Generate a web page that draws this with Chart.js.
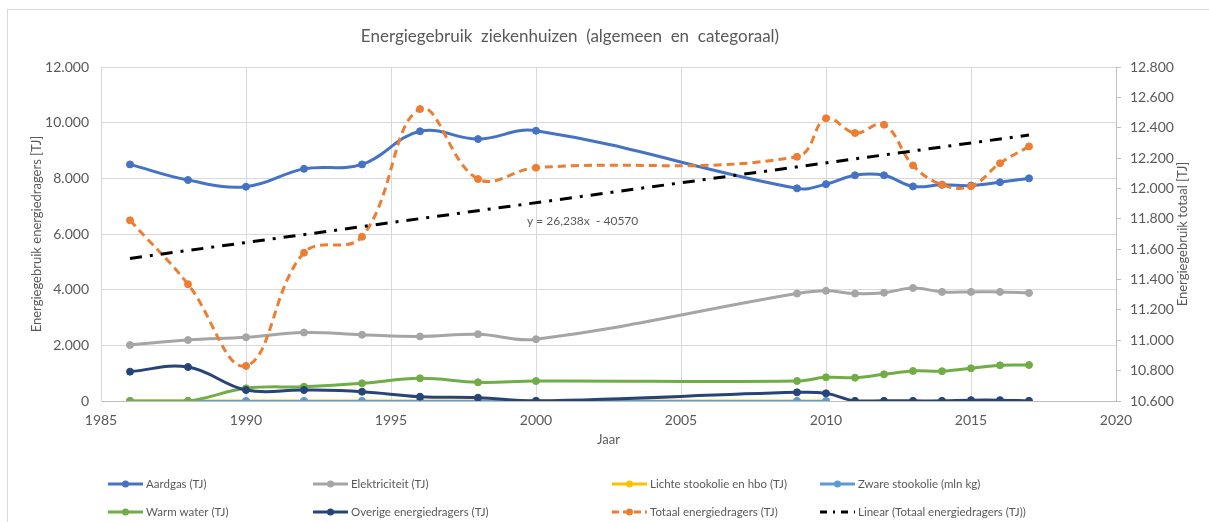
<!DOCTYPE html>
<html>
<head>
<meta charset="utf-8">
<script src="https://cdn.jsdelivr.net/npm/chart.js@4.4.1/dist/chart.umd.min.js"></script>
<style>
  html, body { margin: 0; padding: 0; background: #ffffff; }
  #wrap { width: 1209px; height: 522px; position: relative; }
</style>
</head>
<body>
<div id="wrap"><canvas id="c" width="1209" height="522"></canvas></div>
<script>
// ---- data ----
const years = [1986, 1988, 1990, 1992, 1994, 1996, 1998, 2000, 2009, 2010, 2011, 2012, 2013, 2014, 2015, 2016, 2017];
const aardgas = [8500, 7940, 7700, 8340, 8500, 9690, 9410, 9710, 7640, 7790, 8110, 8110, 7710, 7770, 7740, 7860, 8000];
const elektriciteit = [2010, 2190, 2290, 2460, 2380, 2320, 2400, 2220, 3860, 3960, 3860, 3890, 4060, 3920, 3920, 3920, 3880];
const lichteStookolie = [0, 0, 0, 0, 0, 0, 0, 0, 0, 0, null, null, null, null, null, null, null];
const zwareStookolie = [0, 0, 0, 0, 0, 0, 0, 0, 0, 0, null, null, null, null, null, null, null];
const warmWater = [0, 0, 455, 515, 635, 814, 671, 719, 719, 850, 838, 958, 1078, 1070, 1174, 1281, 1293];
const overige = [1054, 1222, 395, 395, 335, 156, 120, 5, 311, 275, 5, 5, 5, 5, 30, 30, 5];
const totaal = [11790, 11369, 10831, 11577, 11682, 12523, 12062, 12137, 12209, 12462, 12365, 12420, 12152, 12025, 12014, 12166, 12277];
const trendYears = [1986, 2017];
const trendValues = [11539, 12352];
const trendLabel = 'y = 26,238x  - 40570';

const seriesLabels = ['Aardgas (TJ)', 'Elektriciteit (TJ)', 'Lichte stookolie en hbo (TJ)', 'Zware stookolie (mln kg)',
  'Warm water (TJ)', 'Overige energiedragers (TJ)', 'Totaal energiedragers (TJ)', 'Linear (Totaal energiedragers (TJ))'];
const chartTitle = 'Energiegebruik  ziekenhuizen  (algemeen  en  categoraal)';
const leftTitle = 'Energiegebruik energiedragers [TJ]';
const rightTitle = 'Energiegebruik totaal [TJ]';
const xTitle = 'Jaar';

const FONT = 'Lato, "Open Sans", sans-serif';
const TXT = '#595959';

function pts(xs, ys) { return xs.map((x, i) => ({ x: x, y: ys[i] })); }
function nl(v) { return String(v).replace(/\B(?=(\d{3})+(?!\d))/g, '.'); }

function lineDs(label, data, color, idx, extra) {
  return Object.assign({
    label: label, data: data, borderColor: color, backgroundColor: color,
    pointBackgroundColor: color, pointBorderColor: color,
    borderWidth: 3, pointRadius: 3.5, pointBorderWidth: 1, pointHoverRadius: 3.5,
    tension: 0.4, yAxisID: 'y', order: 100 - idx, spanGaps: false, fill: false
  }, extra || {});
}

const datasets = [
  lineDs(seriesLabels[0], pts(years, aardgas), '#4472C4', 0),
  lineDs(seriesLabels[1], pts(years, elektriciteit), '#A5A5A5', 1),
  lineDs(seriesLabels[2], pts(years, lichteStookolie), '#FFC000', 2),
  lineDs(seriesLabels[3], pts(years, zwareStookolie), '#5B9BD5', 3, { borderWidth: 2 }),
  lineDs(seriesLabels[4], pts(years, warmWater), '#70AD47', 4),
  lineDs(seriesLabels[5], pts(years, overige), '#264478', 5),
  lineDs(seriesLabels[6], pts(years, totaal), '#ED7D31', 6, { yAxisID: 'y2', borderDash: [8, 5] }),
  lineDs(seriesLabels[7], pts(trendYears, trendValues), '#000000', 7, { yAxisID: 'y2', borderDash: [12, 8, 3, 8], pointRadius: 0, pointHoverRadius: 0, tension: 0 })
];

const decor = {
  id: 'decor',
  beforeDraw(chart) {
    const ctx = chart.ctx;
    ctx.save();
    ctx.fillStyle = '#ffffff';
    ctx.fillRect(0, 0, chart.width, chart.height);
    ctx.strokeStyle = '#d9d9d9';
    ctx.lineWidth = 1;
    ctx.strokeRect(7.5, 9.5, 1300, 600);
    ctx.restore();
  },
  afterDraw(chart) {
    const ctx = chart.ctx;
    const ca = chart.chartArea;
    ctx.save();
    ctx.fillStyle = TXT;
    // title
    ctx.font = '17px ' + FONT;
    ctx.textAlign = 'center';
    ctx.textBaseline = 'middle';
    ctx.fillText(chartTitle, 570, 37);
    // x title
    ctx.font = '13px ' + FONT;
    ctx.fillText(xTitle, (ca.left + ca.right) / 2, 440);
    // left title
    ctx.save();
    ctx.translate(37, (ca.top + ca.bottom) / 2);
    ctx.rotate(-Math.PI / 2);
    ctx.fillText(leftTitle, 0, 0);
    ctx.restore();
    // right title
    ctx.save();
    ctx.translate(1183, (ca.top + ca.bottom) / 2);
    ctx.rotate(-Math.PI / 2);
    ctx.fillText(rightTitle, 0, 0);
    ctx.restore();
    // trendline equation
    ctx.font = '12px ' + FONT;
    ctx.textAlign = 'left';
    ctx.fillText(trendLabel, 527, 221);
    // legend (4 columns x 2 rows)
    const colX = [108, 313, 612, 820];
    const rowY = [484, 512];
    ctx.font = '11.5px ' + FONT;
    chart.data.datasets.forEach((ds, i) => {
      const x = colX[i % 4], y = rowY[Math.floor(i / 4)];
      ctx.save();
      ctx.strokeStyle = ds.borderColor;
      ctx.lineWidth = 3;
      if (ds.borderDash) ctx.setLineDash(i === 7 ? [7, 6, 2, 6] : [7, 4]);
      ctx.beginPath();
      ctx.moveTo(x, y); ctx.lineTo(x + 35, y);
      ctx.stroke();
      ctx.setLineDash([]);
      if (ds.pointRadius > 0) {
        ctx.fillStyle = ds.borderColor;
        ctx.beginPath();
        ctx.arc(x + 17.5, y, 3.5, 0, Math.PI * 2);
        ctx.fill();
      }
      ctx.restore();
      ctx.fillStyle = TXT;
      ctx.textBaseline = 'middle';
      ctx.fillText(ds.label, x + 38, y);
    });
    ctx.restore();
  }
};

new Chart(document.getElementById('c'), {
  type: 'line',
  data: { datasets: datasets },
  plugins: [decor],
  options: {
    responsive: false,
    devicePixelRatio: 1,
    animation: false,
    events: [],
    layout: { padding: { top: 67, left: 0, right: 0, bottom: 0 } },
    plugins: { legend: { display: false }, title: { display: false }, tooltip: { enabled: false } },
    scales: {
      x: {
        type: 'linear', min: 1985, max: 2020,
        afterFit(s) { s.height = 121; },
        ticks: { stepSize: 5, padding: 11, color: TXT, font: { family: FONT, size: 14 }, callback: v => String(v), maxRotation: 0 },
        grid: { color: '#d9d9d9', drawTicks: false },
        border: { color: '#bfbfbf' }
      },
      y: {
        position: 'left', min: 0, max: 12000,
        afterFit(s) { s.width = 101; },
        ticks: { stepSize: 2000, padding: 12, color: TXT, font: { family: FONT, size: 14 }, callback: v => nl(v) },
        grid: { color: '#d9d9d9', drawTicks: false },
        border: { color: '#d9d9d9' }
      },
      y2: {
        position: 'right', min: 10600, max: 12800,
        afterFit(s) { s.width = 93; },
        ticks: { stepSize: 200, padding: 9, color: TXT, font: { family: FONT, size: 14 }, callback: v => nl(v) },
        grid: { drawOnChartArea: false, drawTicks: true, tickLength: 5, color: '#bfbfbf' },
        border: { color: '#bfbfbf' }
      }
    }
  }
});
</script>
</body>
</html>
